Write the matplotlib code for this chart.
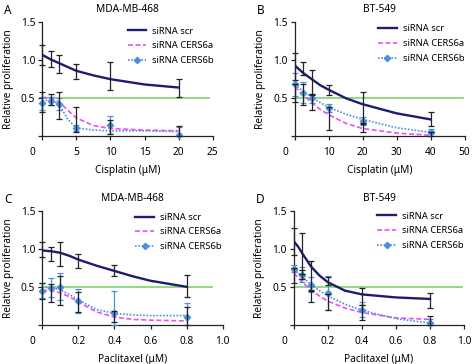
import numpy as np
import matplotlib.pyplot as plt
import matplotlib.transforms as mtransforms
from matplotlib.lines import Line2D

plt.rcParams['font.family'] = ['Noto Sans', 'DejaVu Sans']

# ---- data ----
# A: MDA-MB-468, cisplatin
a_dose = [0, 1.25, 2.5, 5, 10, 20]
a_scr = [1.07, 1.02, 0.95, 0.85, 0.79, 0.63]
a_scr_err = [0.13, 0.105, 0.12, 0.095, 0.18, 0.12]
a_c6a = [0.45, 0.485, 0.40, 0.22, 0.12, 0.07]
a_c6a_err = [0.13, 0.075, 0.18, 0.165, 0.09, 0.07]
a_c6b = [0.43, 0.46, 0.42, 0.11, 0.15, 0.02]
a_c6b_err = [0.08, 0.05, 0.08, 0.04, 0.12, 0.10]
a_fit_x = [0, 1.25, 2.5, 3.75, 5, 7.5, 10, 15, 20]
a_fit_scr = [1.07, 1.01, 0.96, 0.91, 0.86, 0.80, 0.75, 0.68, 0.64]
a_fit_c6a = [0.51, 0.50, 0.45, 0.34, 0.24, 0.14, 0.10, 0.08, 0.07]
a_fit_c6b = [0.47, 0.47, 0.42, 0.22, 0.11, 0.08, 0.07, 0.07, 0.06]

# B: BT-549, cisplatin
b_dose = [0, 2.5, 5, 10, 20, 40]
b_scr = [0.92, 0.89, 0.715, 0.605, 0.375, 0.23]
b_scr_err = [0.18, 0.09, 0.155, 0.065, 0.21, 0.09]
b_c6a = [0.57, 0.55, 0.44, 0.23, 0.11, 0.02]
b_c6a_err = [0.12, 0.14, 0.10, 0.15, 0.06, 0.04]
b_c6b = [0.68, 0.57, 0.50, 0.37, 0.20, 0.06]
b_c6b_err = [0.15, 0.14, 0.06, 0.05, 0.05, 0.03]
b_fit_x = [0, 2.5, 5, 7.5, 10, 15, 20, 30, 40]
b_fit_scr = [0.93, 0.83, 0.75, 0.67, 0.61, 0.50, 0.42, 0.30, 0.22]
b_fit_c6a = [0.65, 0.54, 0.44, 0.35, 0.28, 0.17, 0.10, 0.04, 0.01]
b_fit_c6b = [0.68, 0.59, 0.51, 0.44, 0.38, 0.29, 0.22, 0.11, 0.05]

# C: MDA-MB-468, paclitaxel
c_dose = [0, 0.05, 0.1, 0.2, 0.4, 0.8]
c_scr = [0.99, 0.93, 0.935, 0.845, 0.715, 0.51]
c_scr_err = [0.10, 0.09, 0.155, 0.095, 0.075, 0.15]
c_c6a = [0.445, 0.42, 0.45, 0.30, 0.11, 0.07]
c_c6a_err = [0.10, 0.12, 0.19, 0.13, 0.07, 0.17]
c_c6b = [0.45, 0.49, 0.50, 0.31, 0.15, 0.10]
c_c6b_err = [0.10, 0.13, 0.18, 0.16, 0.29, 0.18]
c_fit_x = [0, 0.05, 0.1, 0.15, 0.2, 0.3, 0.4, 0.5, 0.6, 0.8]
c_fit_scr = [0.98, 0.97, 0.95, 0.91, 0.86, 0.78, 0.71, 0.64, 0.58, 0.50]
c_fit_c6a = [0.45, 0.45, 0.42, 0.37, 0.30, 0.17, 0.10, 0.07, 0.06, 0.05]
c_fit_c6b = [0.49, 0.49, 0.46, 0.40, 0.33, 0.20, 0.15, 0.13, 0.12, 0.12]

# D: BT-549, paclitaxel
d_dose = [0, 0.05, 0.1, 0.2, 0.4, 0.8]
d_scr = [1.10, 0.945, 0.64, 0.58, 0.37, 0.32]
d_scr_err = [0.18, 0.27, 0.20, 0.05, 0.11, 0.10]
d_c6a = [0.65, 0.66, 0.38, 0.30, 0.16, 0.05]
d_c6a_err = [0.10, 0.06, 0.08, 0.10, 0.10, 0.06]
d_c6b = [0.74, 0.66, 0.53, 0.42, 0.20, 0.02]
d_c6b_err = [0.05, 0.10, 0.10, 0.22, 0.10, 0.05]
d_fit_x = [0, 0.025, 0.05, 0.1, 0.15, 0.2, 0.3, 0.4, 0.6, 0.8]
d_fit_scr = [1.10, 1.03, 0.94, 0.77, 0.65, 0.56, 0.45, 0.40, 0.36, 0.34]
d_fit_c6a = [0.68, 0.62, 0.56, 0.46, 0.38, 0.31, 0.22, 0.16, 0.09, 0.07]
d_fit_c6b = [0.74, 0.68, 0.63, 0.53, 0.45, 0.38, 0.27, 0.19, 0.08, 0.02]

labels = ['siRNA scr', 'siRNA CERS6a', 'siRNA CERS6b']
navy = '#1c1c72'
pink = '#f04ff0'
blue = '#4a90de'
green = '#8cd47a'

panels = [
    dict(letter='A', title='MDA-MB-468', xlabel='Cisplatin (μM)', xmax=25, xticks=[0, 5, 10, 15, 20, 25],
         rect=[0.089, 0.626, 0.360, 0.313], green_end=24.4, leg=(0.50, 0.96),
         dose=a_dose, scr=a_scr, scr_err=a_scr_err, c6a=a_c6a, c6a_err=a_c6a_err, c6b=a_c6b, c6b_err=a_c6b_err,
         fx=a_fit_x, fscr=a_fit_scr, fc6a=a_fit_c6a, fc6b=a_fit_c6b),
    dict(letter='B', title='BT-549', xlabel='Cisplatin (μM)', xmax=50, xticks=[0, 10, 20, 30, 40, 50],
         rect=[0.622, 0.626, 0.358, 0.313], green_end=49.5, leg=(0.49, 0.98),
         dose=b_dose, scr=b_scr, scr_err=b_scr_err, c6a=b_c6a, c6a_err=b_c6a_err, c6b=b_c6b, c6b_err=b_c6b_err,
         fx=b_fit_x, fscr=b_fit_scr, fc6a=b_fit_c6a, fc6b=b_fit_c6b),
    dict(letter='C', title='MDA-MB-468', xlabel='Paclitaxel (μM)', xmax=1.0, xticks=[0, 0.2, 0.4, 0.6, 0.8, 1.0],
         rect=[0.089, 0.108, 0.381, 0.312], green_end=0.94, leg=(0.515, 0.985),
         dose=c_dose, scr=c_scr, scr_err=c_scr_err, c6a=c_c6a, c6a_err=c_c6a_err, c6b=c_c6b, c6b_err=c_c6b_err,
         fx=c_fit_x, fscr=c_fit_scr, fc6a=c_fit_c6a, fc6b=c_fit_c6b),
    dict(letter='D', title='BT-549', xlabel='Paclitaxel (μM)', xmax=1.0, xticks=[0, 0.2, 0.4, 0.6, 0.8, 1.0],
         rect=[0.620, 0.108, 0.359, 0.312], green_end=0.99, leg=(0.49, 0.995),
         dose=d_dose, scr=d_scr, scr_err=d_scr_err, c6a=d_c6a, c6a_err=d_c6a_err, c6b=d_c6b, c6b_err=d_c6b_err,
         fx=d_fit_x, fscr=d_fit_scr, fc6a=d_fit_c6a, fc6b=d_fit_c6b),
]

fig = plt.figure(figsize=(4.74, 3.64), dpi=100)


def err_bars(ax, x, y, e, color, z):
    y = np.array(y)
    e = np.array(e)
    lo = np.minimum(e, y)
    ax.errorbar(x, y, yerr=[lo, e], fmt='none', ecolor=color, elinewidth=0.9,
                capsize=2.2, capthick=0.9, zorder=z, clip_on=False)


for p in panels:
    ax = fig.add_axes(p['rect'])
    ax.set_xlim(0, p['xmax'])
    ax.set_ylim(0, 1.5)

    ax.plot([0, p['green_end']], [0.5, 0.5], color=green, lw=1.3, zorder=1)

    ax.plot(p['fx'], p['fscr'], color=navy, lw=1.7, zorder=3)
    ax.plot(p['fx'], p['fc6a'], color=pink, lw=1.2, ls=(0, (3, 1.5)), zorder=3)
    ax.plot(p['fx'], p['fc6b'], color=blue, lw=1.2, ls=(0, (1, 1)), zorder=3)

    err_bars(ax, p['dose'], p['c6b'], p['c6b_err'], blue, 4)
    ax.plot(p['dose'], p['c6b'], ls='none', marker='D', ms=3.2, color=blue, zorder=5, clip_on=False)
    err_bars(ax, p['dose'], p['c6a'], p['c6a_err'], '#222222', 5)
    err_bars(ax, p['dose'], p['scr'], p['scr_err'], '#222222', 5)

    for s in ['top', 'right']:
        ax.spines[s].set_visible(False)
    for s in ['left', 'bottom']:
        ax.spines[s].set_linewidth(0.9)
        ax.spines[s].set_color('#222222')

    ax.set_yticks([0, 0.5, 1.0, 1.5])
    ax.set_yticklabels(['', '0.5', '1.0', '1.5'])
    ax.set_xticks(p['xticks'])
    ax.set_xticklabels([('%g' % t) if t == 0 else ('%.1f' % t if p['xmax'] <= 1 else '%d' % t)
                        for t in p['xticks']])
    ax.tick_params(axis='both', direction='out', length=3, width=0.9, labelsize=7.3,
                   color='#222222', pad=2)
    ax.tick_params(axis='x', pad=5)
    # the "0" label sits left of the axis origin
    lab0 = ax.get_xticklabels()[0]
    lab0.set_transform(lab0.get_transform() + mtransforms.ScaledTranslation(-7 / 72, 0, fig.dpi_scale_trans))

    ax.set_ylabel('Relative proliferation', fontsize=7.3, labelpad=5)
    ax.set_xlabel(p['xlabel'], fontsize=7.3, labelpad=5)
    ax.set_title(p['title'], fontsize=7.3, pad=7)

    handles = [Line2D([], [], color=navy, lw=1.7),
               Line2D([], [], color=pink, lw=1.2, ls=(0, (3, 1.5))),
               Line2D([], [], color=blue, lw=1.2, ls=(0, (1, 1)), marker='D', ms=3.2)]
    ax.legend(handles, labels, loc='upper left', bbox_to_anchor=p['leg'], frameon=False,
              fontsize=6.8, handlelength=2.0, handletextpad=0.6, labelspacing=0.6,
              borderpad=0, borderaxespad=0, numpoints=1)

    x0, y0 = p['rect'][0], p['rect'][1] + p['rect'][3]
    fig.text(x0 - 0.08, y0 + 0.033, p['letter'], fontsize=8.5, fontweight='bold', va='center', ha='left')

fig.savefig('out.png', dpi=100)
